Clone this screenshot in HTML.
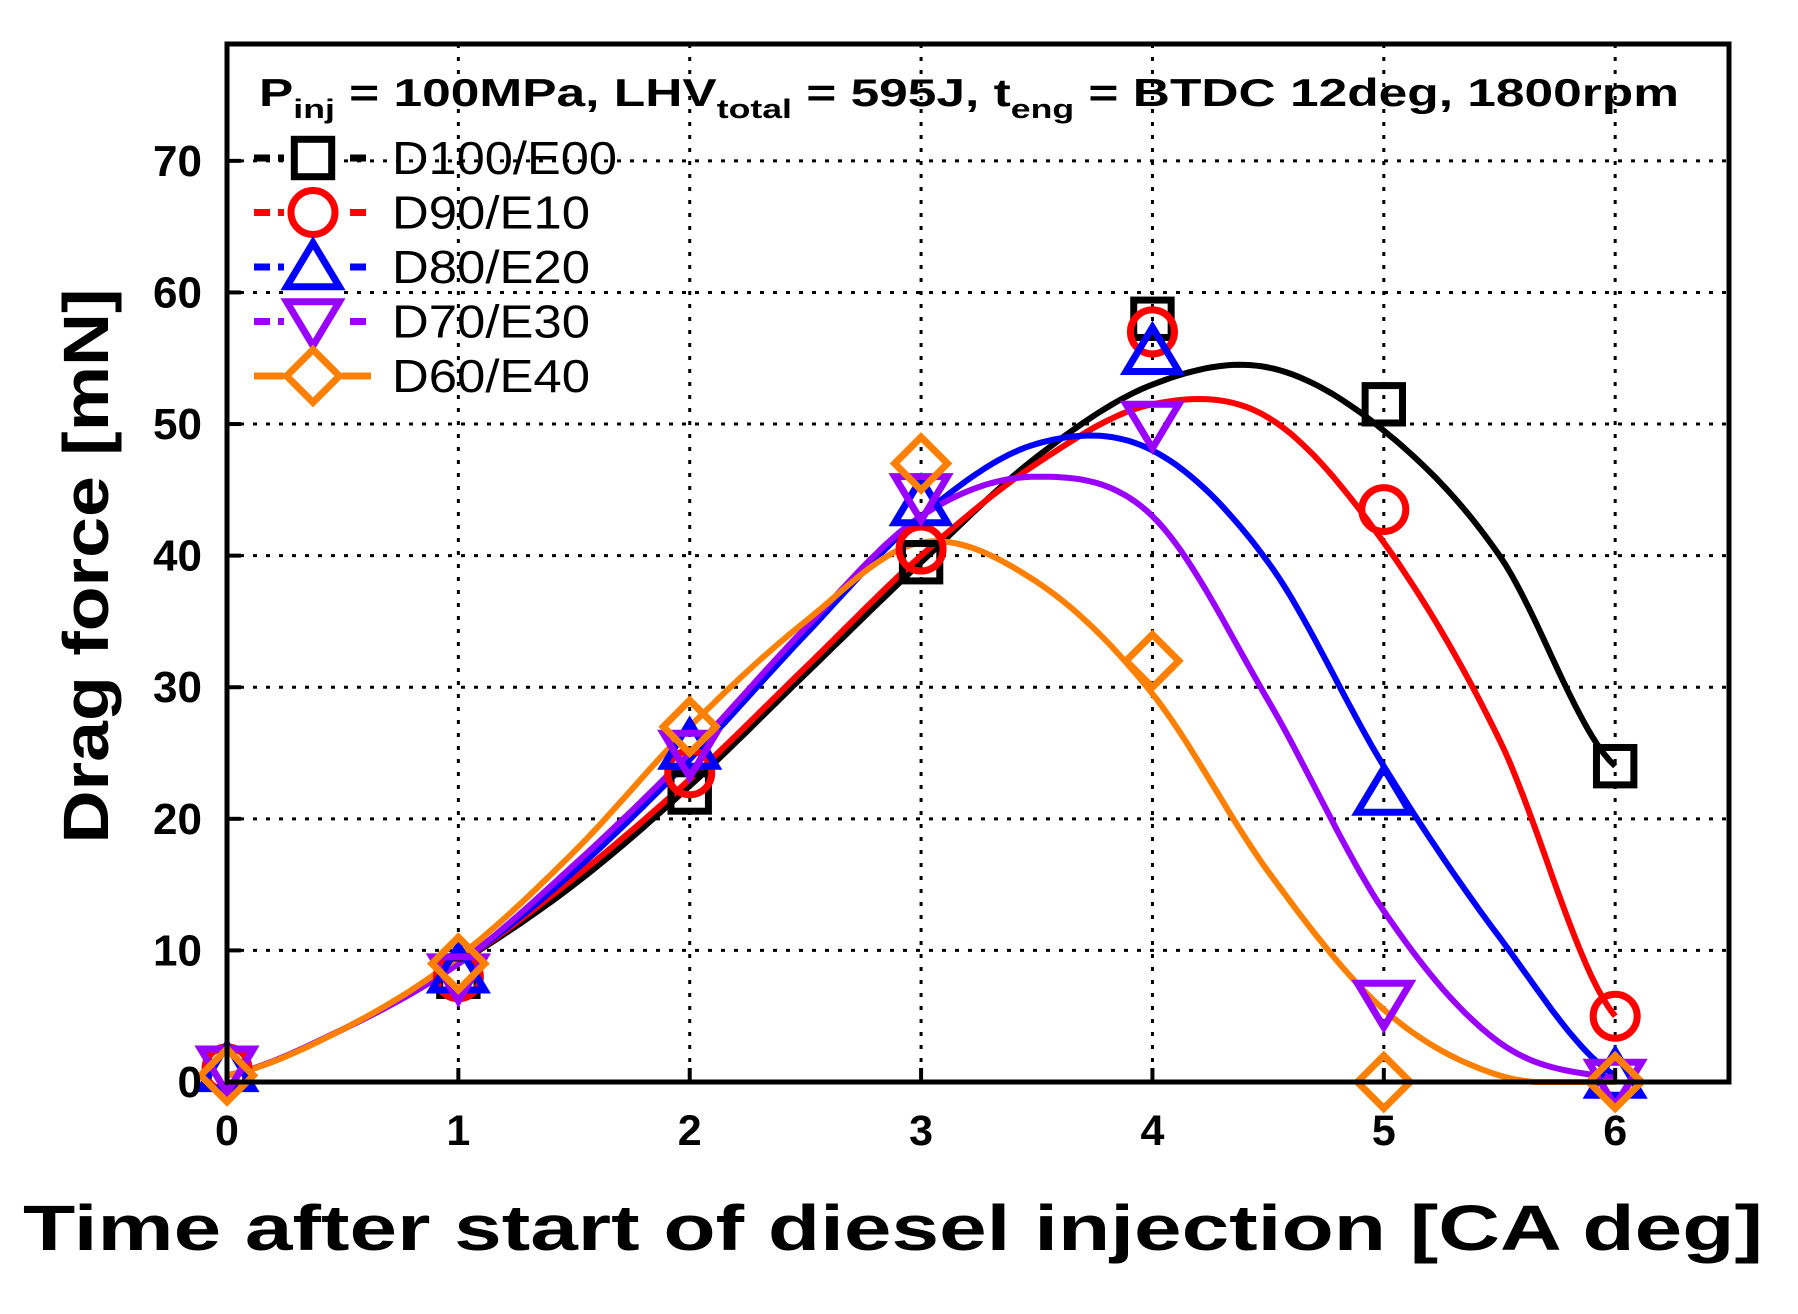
<!DOCTYPE html>
<html><head><meta charset="utf-8"><style>
html,body{margin:0;padding:0;background:#fff;}
svg{display:block;font-family:"Liberation Sans",Arial,sans-serif;}
</style></head><body>
<svg id="chart" width="1798" height="1314" viewBox="0 0 1798 1314" xmlns="http://www.w3.org/2000/svg">
<g id="grid"></g>
<g id="curves"></g>
<g id="marks"></g>
<rect x="227" y="44" width="1502" height="1038" fill="none" stroke="#000" stroke-width="5"/>
<g id="ticks"></g>
<text x="259" y="106" font-size="39" font-weight="bold" textLength="1420" lengthAdjust="spacingAndGlyphs">P<tspan font-size="27" dy="12">inj</tspan><tspan dy="-12"> = 100MPa, LHV</tspan><tspan font-size="27" dy="12">total</tspan><tspan dy="-12"> = 595J, t</tspan><tspan font-size="27" dy="12">eng</tspan><tspan dy="-12"> = BTDC 12deg, 1800rpm</tspan></text>
<g id="legend"></g>
<text x="893" y="1250" text-anchor="middle" font-size="64" font-weight="bold" textLength="1740" lengthAdjust="spacingAndGlyphs">Time after start of diesel injection [CA deg]</text>
<text transform="translate(108,566) rotate(-90)" text-anchor="middle" font-size="64" font-weight="bold" textLength="555" lengthAdjust="spacingAndGlyphs">Drag force [mN]</text>
</svg>
<script>
const xValues = [0, 1, 2, 3, 4, 5, 6];
const seriesNames = ["D100/E00", "D90/E10", "D80/E20", "D70/E30", "D60/E40"];
const d100 = [1, 8, 22, 39.5, 58, 51.5, 24];
const d90 = [1, 8, 23.5, 40.5, 57, 43.5, 5];
const d80 = [1, 8.5, 25.5, 44, 55.5, 22, 0.5];
const d70 = [1, 8, 25, 44.5, 50, 6, 0];
const d60 = [0.5, 9, 27, 47, 32, 0, 0];
// fitted-curve values at half-step x positions
const fitX = [0, 0.5, 1, 1.5, 2, 2.5, 3, 3.5, 4, 4.5, 5, 5.5, 6];
const fit100 = [0.5, 4, 9, 15, 22.5, 31, 39.5, 47.5, 53, 54.3, 49.5, 40, 24];
const fit90 = [0.5, 4, 9, 15.5, 23, 31.5, 40, 47, 51.5, 50.5, 41, 26, 5];
const fit80 = [0.5, 4, 9, 16, 24.5, 34, 43, 48.5, 48, 39.5, 24, 11, 0.5];
const fit70 = [0.5, 4, 9, 16.5, 25, 34.5, 43, 46, 43, 29, 13, 3, 0.3];
const fit60 = [0.5, 4, 9.5, 17.5, 27, 35, 41, 38, 29.5, 16, 5.5, 0.5, 0];
const xTicks = [0, 1, 2, 3, 4, 5, 6];
const yTicks = [0, 10, 20, 30, 40, 50, 60, 70];

const seriesData = [d100, d90, d80, d70, d60];
const fitData = [fit100, fit90, fit80, fit70, fit60];
const colors = ["#000000", "#ff0000", "#0000ff", "#9900ff", "#ff8000"];
const shapes = ["square", "circle", "tri", "itri", "diamond"];
const X0 = 227, X1 = 1729, Y0 = 1082, Y1 = 44, XMAX = 6.492, YMAX = 78.88;
const sx = v => X0 + v / XMAX * (X1 - X0);
const sy = v => Y0 - v / YMAX * (Y0 - Y1);
const NS = "http://www.w3.org/2000/svg";
function mk(tag, attrs, parent) {
  const e = document.createElementNS(NS, tag);
  for (const k in attrs) e.setAttribute(k, attrs[k]);
  parent.appendChild(e);
  return e;
}
const grid = document.getElementById('grid'), ticks = document.getElementById('ticks');
xTicks.forEach(t => {
  if (t > 0) {
    const g = mk('line', {x1: sx(t), x2: sx(t), y1: Y1, y2: Y0, stroke: '#000', 'stroke-width': 3, 'stroke-dasharray': '4 9'}, grid);
    
    
    const tk = mk('line', {x1: sx(t), x2: sx(t), y1: Y0, y2: Y0 - 14, stroke: '#000', 'stroke-width': 4}, ticks);
    
    
  }
  const l = mk('text', {x: sx(t), y: 1145, 'text-anchor': 'middle', 'font-size': 43, 'font-weight': 'bold'}, ticks);
  l.textContent = t;
  
  
});
yTicks.forEach(t => {
  if (t > 0) {
    const g = mk('line', {x1: X0, x2: X1, y1: sy(t), y2: sy(t), stroke: '#000', 'stroke-width': 3, 'stroke-dasharray': '4 9'}, grid);
    
    
    const tk = mk('line', {x1: X0, x2: X0 + 14, y1: sy(t), y2: sy(t), stroke: '#000', 'stroke-width': 4}, ticks);
    
    
  }
  const l = mk('text', {x: 202, y: sy(t) + 15, 'text-anchor': 'end', 'font-size': 44, 'font-weight': 'bold'}, ticks);
  l.textContent = t;
  
  
});
function catmull(xs, ys) {
  let d = '';
  const n = xs.length;
  for (let i = 0; i < n - 1; i++) {
    const y0 = ys[Math.max(0, i - 1)], y1 = ys[i], y2 = ys[i + 1], y3 = ys[Math.min(n - 1, i + 2)];
    const steps = 20;
    for (let s = (i ? 1 : 0); s <= steps; s++) {
      const t = s / steps;
      const y = 0.5 * ((2 * y1) + (-y0 + y2) * t + (2 * y0 - 5 * y1 + 4 * y2 - y3) * t * t + (-y0 + 3 * y1 - 3 * y2 + y3) * t * t * t);
      const x = xs[i] + (xs[i + 1] - xs[i]) * t;
      d += (d ? 'L' : 'M') + sx(x).toFixed(1) + ',' + sy(Math.max(0, y)).toFixed(1);
    }
  }
  return d;
}
function marker(shape, cx, cy, col, parent, s) {
  const a = {fill: 'none', stroke: col, 'stroke-width': 7, 'stroke-linejoin': 'miter'};
  let e;
  if (shape === 'square') e = mk('rect', Object.assign({x: cx - s * 0.85, y: cy - s * 0.85, width: s * 1.7, height: s * 1.7}, a), parent);
  else if (shape === 'circle') e = mk('circle', Object.assign({cx: cx, cy: cy, r: s}, a), parent);
  else if (shape === 'tri') e = mk('polygon', Object.assign({points: `${cx},${cy - s * 1.1} ${cx + s * 1.2},${cy + s * 0.9} ${cx - s * 1.2},${cy + s * 0.9}`}, a), parent);
  else if (shape === 'itri') e = mk('polygon', Object.assign({points: `${cx},${cy + s * 1.1} ${cx + s * 1.2},${cy - s * 0.9} ${cx - s * 1.2},${cy - s * 0.9}`}, a), parent);
  else e = mk('polygon', Object.assign({points: `${cx},${cy - s * 1.2} ${cx + s * 1.2},${cy} ${cx},${cy + s * 1.2} ${cx - s * 1.2},${cy}`}, a), parent);
  return e;
}
const curves = document.getElementById('curves'), marks = document.getElementById('marks');
seriesData.forEach((ys, si) => {
  const p = mk('path', {d: catmull(fitX, fitData[si]), fill: 'none', stroke: colors[si], 'stroke-width': 6}, curves);
  
  
  ys.forEach((y, k) => {
    const m = marker(shapes[si], sx(xValues[k]), sy(y), colors[si], marks, 22);
    
    
  });
});
const legend = document.getElementById('legend');
seriesNames.forEach((nm, i) => {
  const y = 158 + i * 54.5;
  const g = mk('g', {}, legend);
  
  
  mk('line', {x1: 254, x2: 371, y1: y, y2: y, stroke: colors[i], 'stroke-width': 7, 'stroke-dasharray': i === 4 ? 'none' : '16 8'}, g);
  mk('rect', {x: 284, y: y - 28, width: 58, height: 56, fill: '#fff'}, g);
  marker(shapes[i], 313, y, colors[i], g, 22);
  const t = mk('text', {x: 392, y: y + 16, 'font-size': 46, textLength: (nm.length === 8 ? 225 : 198), lengthAdjust: 'spacingAndGlyphs'}, g);
  t.textContent = nm;
});
</script>
</body></html>
